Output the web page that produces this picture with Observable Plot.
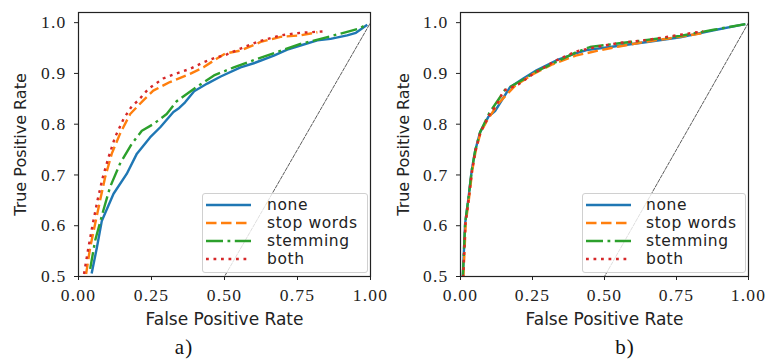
<!DOCTYPE html>
<html><head><meta charset="utf-8">
<script src="https://cdn.jsdelivr.net/npm/d3@7"></script>
<script src="https://cdn.jsdelivr.net/npm/@observablehq/plot@0.6"></script>
<style>
body{margin:0;background:#fff;}
#fig{position:relative;width:766px;height:363px;overflow:hidden;background:#fff;}
.panel{position:absolute;top:0;}
.cap{position:absolute;top:335px;font-family:"Liberation Serif";font-size:21px;letter-spacing:1px;color:#111;transform:translateX(-50%);}
.legend{position:absolute;border:1px solid #d0d0d0;border-radius:3px;background:rgba(255,255,255,0.8);box-sizing:border-box;}
</style></head><body><div id="fig"></div>
<script>
// ---- series names & styles ----
const seriesNames = ["none", "stop words", "stemming", "both"];
const seriesColors = ["#1f77b4", "#ff7f0e", "#2ca02c", "#d62728"];
const seriesDash = [null, "10.5,4.5", "17,4.5,2.8,4.5", "2.8,4.7"];
const xTicks = [0, 0.25, 0.5, 0.75, 1];
const yTicks = [0.5, 0.6, 0.7, 0.8, 0.9, 1.0];
const chanceLine = [0, 1];

// ---- panel a) ----
const noneA_x = [0.045,0.063,0.08,0.12,0.165,0.20,0.245,0.28,0.325,0.345,0.365,0.396,0.441,0.487,0.555,0.60,0.669,0.715,0.76,0.818,0.863,0.92,0.95,0.989];
const noneA_y = [0.506,0.557,0.61,0.663,0.702,0.742,0.774,0.794,0.824,0.832,0.843,0.865,0.880,0.894,0.912,0.92,0.935,0.947,0.955,0.965,0.968,0.975,0.98,0.996];
const stopA_x = [0.026,0.04,0.057,0.074,0.091,0.114,0.142,0.177,0.222,0.256,0.313,0.382,0.428,0.473,0.502,0.555,0.624,0.692,0.76,0.818];
const stopA_y = [0.505,0.557,0.604,0.65,0.695,0.742,0.781,0.82,0.847,0.866,0.883,0.899,0.912,0.929,0.939,0.945,0.962,0.972,0.975,0.981];
const stemA_x = [0.04,0.057,0.085,0.108,0.142,0.182,0.217,0.256,0.302,0.336,0.36,0.396,0.464,0.532,0.60,0.68,0.76,0.829,0.92,0.96,0.989];
const stemA_y = [0.515,0.571,0.63,0.676,0.722,0.761,0.787,0.80,0.82,0.845,0.855,0.870,0.896,0.912,0.926,0.942,0.958,0.968,0.982,0.988,0.997];
const bothA_x = [0.019,0.034,0.049,0.065,0.083,0.103,0.125,0.154,0.182,0.205,0.24,0.29,0.336,0.382,0.428,0.473,0.498,0.555,0.612,0.692,0.76,0.846];
const bothA_y = [0.505,0.557,0.604,0.65,0.695,0.735,0.774,0.81,0.835,0.847,0.87,0.89,0.90,0.909,0.922,0.932,0.935,0.949,0.962,0.975,0.98,0.983];

// ---- panel b) ----
const noneB_x = [0.008,0.016,0.028,0.039,0.051,0.068,0.097,0.12,0.172,0.218,0.264,0.334,0.403,0.438,0.532,0.648,0.763,0.879,0.989];
const noneB_y = [0.498,0.604,0.656,0.709,0.748,0.784,0.815,0.826,0.873,0.89,0.906,0.926,0.94,0.946,0.953,0.962,0.971,0.985,0.997];
const stopB_x = [0.01,0.018,0.03,0.041,0.053,0.07,0.09,0.13,0.19,0.25,0.32,0.40,0.47,0.55,0.65,0.76,0.85];
const stopB_y = [0.498,0.604,0.656,0.709,0.748,0.784,0.805,0.84,0.876,0.898,0.918,0.935,0.944,0.953,0.963,0.972,0.98];
const stemB_x = [0.008,0.016,0.028,0.039,0.051,0.068,0.1,0.155,0.218,0.264,0.334,0.403,0.45,0.532,0.648,0.763,0.879,0.989];
const stemB_y = [0.498,0.604,0.656,0.709,0.748,0.784,0.822,0.868,0.888,0.904,0.923,0.942,0.952,0.958,0.966,0.974,0.986,0.997];
const bothB_x = [0.009,0.017,0.029,0.04,0.052,0.069,0.1,0.125,0.15,0.2,0.26,0.33,0.40,0.47,0.55,0.65,0.75,0.843];
const bothB_y = [0.498,0.604,0.656,0.709,0.748,0.784,0.818,0.838,0.866,0.878,0.902,0.925,0.943,0.952,0.96,0.966,0.975,0.983];

const panelA = [[noneA_x,noneA_y],[stopA_x,stopA_y],[stemA_x,stemA_y],[bothA_x,bothA_y]];
const panelB = [[noneB_x,noneB_y],[stopB_x,stopB_y],[stemB_x,stemB_y],[bothB_x,bothB_y]];

function makePanel(series, o){
  const lines = series.map(([xs, ys], k) => {
    const rows = xs.map((x, i) => ({x, y: ys[i]}));
    return Plot.line(rows, {x: "x", y: "y", stroke: seriesColors[k], strokeWidth: 2.4,
      strokeDasharray: seriesDash[k], strokeLinecap: "butt", strokeLinejoin: "round", clip: true});
  });
  const svg = Plot.plot({
    width: o.width, height: 335,
    marginLeft: o.ml, marginRight: o.mr, marginTop: 12, marginBottom: 59,
    style: {background: "transparent", overflow: "visible", color: "#222"},
    x: {domain: [0, 1], label: null},
    y: {domain: [0.5, 1.02], label: null},
    marks: [
      Plot.line(chanceLine, {x: d => d, y: d => d, stroke: "#333", strokeWidth: 0.8, strokeDasharray: "3.5,1.5", clip: true}),
      ...lines,
      Plot.frame({stroke: "#222", strokeWidth: 1.2}),
      Plot.axisX({ticks: xTicks, tickFormat: d => d.toFixed(2), tickSize: 4, tickPadding: 8, label: null}),
      Plot.axisY({ticks: yTicks, tickFormat: d => d.toFixed(1), tickSize: 4, tickPadding: 8, label: null}),
      Plot.text(["False Positive Rate"], {frameAnchor: "bottom", dy: 43, lineAnchor: "middle", textAnchor: "middle",
        fontFamily: "DejaVu Sans", fontSize: 17, fill: "#222"}),
      Plot.text(["True Positive Rate"], {frameAnchor: "left", dx: o.ylabDx, rotate: -90, lineAnchor: "middle", textAnchor: "middle",
        fontFamily: "DejaVu Sans", fontSize: 16, fill: "#222"})
    ]
  });
  // serif tick labels (numbers only)
  d3.select(svg).selectAll("text")
    .filter(function(){ return /^[0-9.]+$/.test(this.textContent.trim()); })
    .style("font-family", "'Liberation Serif', serif").style("font-size", "17.5px")
    .style("letter-spacing", "1.2px").style("fill", "#222");
  return svg;
}

function makeLegend(box){
  const div = document.createElement("div");
  div.className = "legend";
  Object.assign(div.style, {left: box.left + "px", top: box.top + "px", width: box.w + "px", height: box.h + "px"});
  const svg = d3.select(div).append("svg").attr("width", box.w - 2).attr("height", box.h - 2)
    .style("position", "absolute").style("left", "0").style("top", "0");
  seriesNames.forEach((name, k) => {
    const y = 11 + k * 18;
    svg.append("line").attr("x1", 3).attr("x2", 48).attr("y1", y).attr("y2", y)
      .attr("stroke", seriesColors[k]).attr("stroke-width", 2.4)
      .attr("stroke-dasharray", seriesDash[k]);
    svg.append("text").attr("x", box.tx).attr("y", y).attr("dy", "0.35em")
      .attr("font-family", "DejaVu Sans").attr("font-size", 15.5).attr("letter-spacing", "0.6px")
      .attr("fill", "#222").text(name);
  });
  return div;
}

const fig = document.getElementById("fig");
const pa = makePanel(panelA, {width: 400, ml: 78, mr: 30, ylabDx: -58});
pa.classList.add("panel"); pa.style.left = "0px";
const pb = makePanel(panelB, {width: 383, ml: 77, mr: 18, ylabDx: -57});
pb.classList.add("panel"); pb.style.left = "383px";
fig.appendChild(pa); fig.appendChild(pb);
fig.appendChild(makeLegend({left: 202, top: 193, w: 166, h: 80, tx: 64}));
fig.appendChild(makeLegend({left: 582, top: 193, w: 164, h: 80, tx: 63}));
const capA = document.createElement("div"); capA.className = "cap"; capA.style.left = "184px"; capA.textContent = "a)";
const capB = document.createElement("div"); capB.className = "cap"; capB.style.left = "625px"; capB.textContent = "b)";
fig.appendChild(capA); fig.appendChild(capB);
</script></body></html>
